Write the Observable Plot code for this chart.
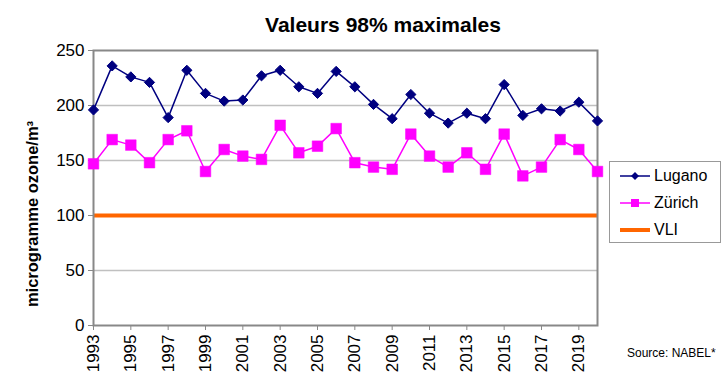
<!DOCTYPE html>
<html>
<head>
<meta charset="utf-8">
<script src="https://cdn.jsdelivr.net/npm/d3@7"></script>
<script src="https://cdn.jsdelivr.net/npm/@observablehq/plot@0.6"></script>
<style>
  html, body { margin: 0; padding: 0; background: #fff; }
  body { width: 728px; height: 381px; position: relative; overflow: hidden; font-family: "Liberation Sans", Arial, sans-serif; }
  #chart { position: absolute; left: 0; top: 0; }
  #title { position: absolute; left: 0; width: 766px; top: 13px; text-align: center; font-weight: bold; font-size: 21px; color: #000; }
  #legend { position: absolute; left: 609px; top: 161px; width: 112px; height: 82px; border: 1px solid #999; box-sizing: border-box; background: #fff; }
  .item { position: absolute; left: 10px; height: 20px; display: flex; align-items: center; font-size: 16px; }
  .item svg { margin-right: 2px; }
  #source { position: absolute; left: 627px; top: 346px; font-size: 12px; color: #000; }
</style>
</head>
<body>
<div id="chart"></div>
<div id="title">Valeurs 98% maximales</div>
<div id="legend"></div>
<div id="source">Source: NABEL*</div>
<script>
const years = d3.range(1993, 2021);
const lugano = [196, 236, 226, 221, 189, 232, 211, 204, 205, 227, 232, 217, 211, 231, 217, 201, 188, 210, 193, 184, 193, 188, 219, 191, 197, 195, 203, 186];
const zurich = [147, 169, 164, 148, 169, 177, 140, 160, 154, 151, 182, 157, 163, 179, 148, 144, 142, 174, 154, 144, 157, 142, 174, 136, 144, 169, 160, 140];
const vli = 100;
const yTicks = [0, 50, 100, 150, 200, 250];
const xTicks = d3.range(1993, 2021, 2);
const seriesNames = ["Lugano", "Zürich", "VLI"];
const colors = { Lugano: "#000080", "Zürich": "#ff00ff", VLI: "#ff6600" };

const dataL = years.map((y, i) => ({ year: y, v: lugano[i] }));
const dataZ = years.map((y, i) => ({ year: y, v: zurich[i] }));

const plot = Plot.plot({
  width: 728,
  height: 381,
  marginLeft: 93,
  marginRight: 131,
  marginTop: 50,
  marginBottom: 56,
  style: { fontFamily: "Liberation Sans, Arial, sans-serif", fontSize: "16px", color: "#000", background: "#fff" },
  x: { type: "linear", domain: [1993, 2020] },
  y: { domain: [0, 250] },
  marks: [
    Plot.gridY([50, 150, 200], { stroke: "#c0c0c0", strokeOpacity: 1, strokeWidth: 1.5 }),
    Plot.ruleY([vli], { stroke: colors.VLI, strokeWidth: 4 }),
    Plot.frame({ stroke: "#888", strokeWidth: 2 }),
    Plot.axisY({ ticks: yTicks, tickSize: 5, tickPadding: 4, stroke: "#888", fontSize: 17, label: null }),
    Plot.axisX({ ticks: xTicks, tickSize: 5, tickPadding: 4, tickRotate: -90, tickFormat: d => String(d), stroke: "#888", fontSize: 17, label: null }),
    Plot.text(["microgramme ozone/m³"], { frameAnchor: "left", textAnchor: "middle", dx: -61, dy: 26, rotate: -90, fontWeight: "bold", fontSize: 16.5 }),
    Plot.line(dataL, { x: "year", y: "v", stroke: colors.Lugano, strokeWidth: 1.5 }),
    Plot.line(dataZ, { x: "year", y: "v", stroke: colors["Zürich"], strokeWidth: 1.5 }),
    Plot.dot(dataL, { x: "year", y: "v", symbol: "diamond2", r: 4.6, fill: colors.Lugano, stroke: colors.Lugano, strokeWidth: 1 }),
    Plot.dot(dataZ, { x: "year", y: "v", symbol: "square", r: 6, fill: colors["Zürich"], stroke: colors["Zürich"], strokeWidth: 0.5 })
  ]
});
document.getElementById("chart").appendChild(plot);

// Legend
const legend = document.getElementById("legend");
seriesNames.forEach((name, i) => {
  const div = document.createElement("div");
  div.className = "item";
  div.style.top = (4 + i * 27) + "px";
  let sym = "";
  if (name === "Lugano") sym = `<path d="M15,6 L19,10 L15,14 L11,10 Z" fill="${colors[name]}"/>`;
  if (name === "Zürich") sym = `<rect x="11" y="6" width="8" height="8" fill="${colors[name]}"/>`;
  const sw = name === "VLI" ? 4 : 1.5;
  div.innerHTML = `<svg width="32" height="20"><line x1="0" y1="10" x2="30" y2="10" stroke="${colors[name]}" stroke-width="${sw}"/>${sym}</svg><span>${name}</span>`;
  legend.appendChild(div);
});
</script>
</body>
</html>
